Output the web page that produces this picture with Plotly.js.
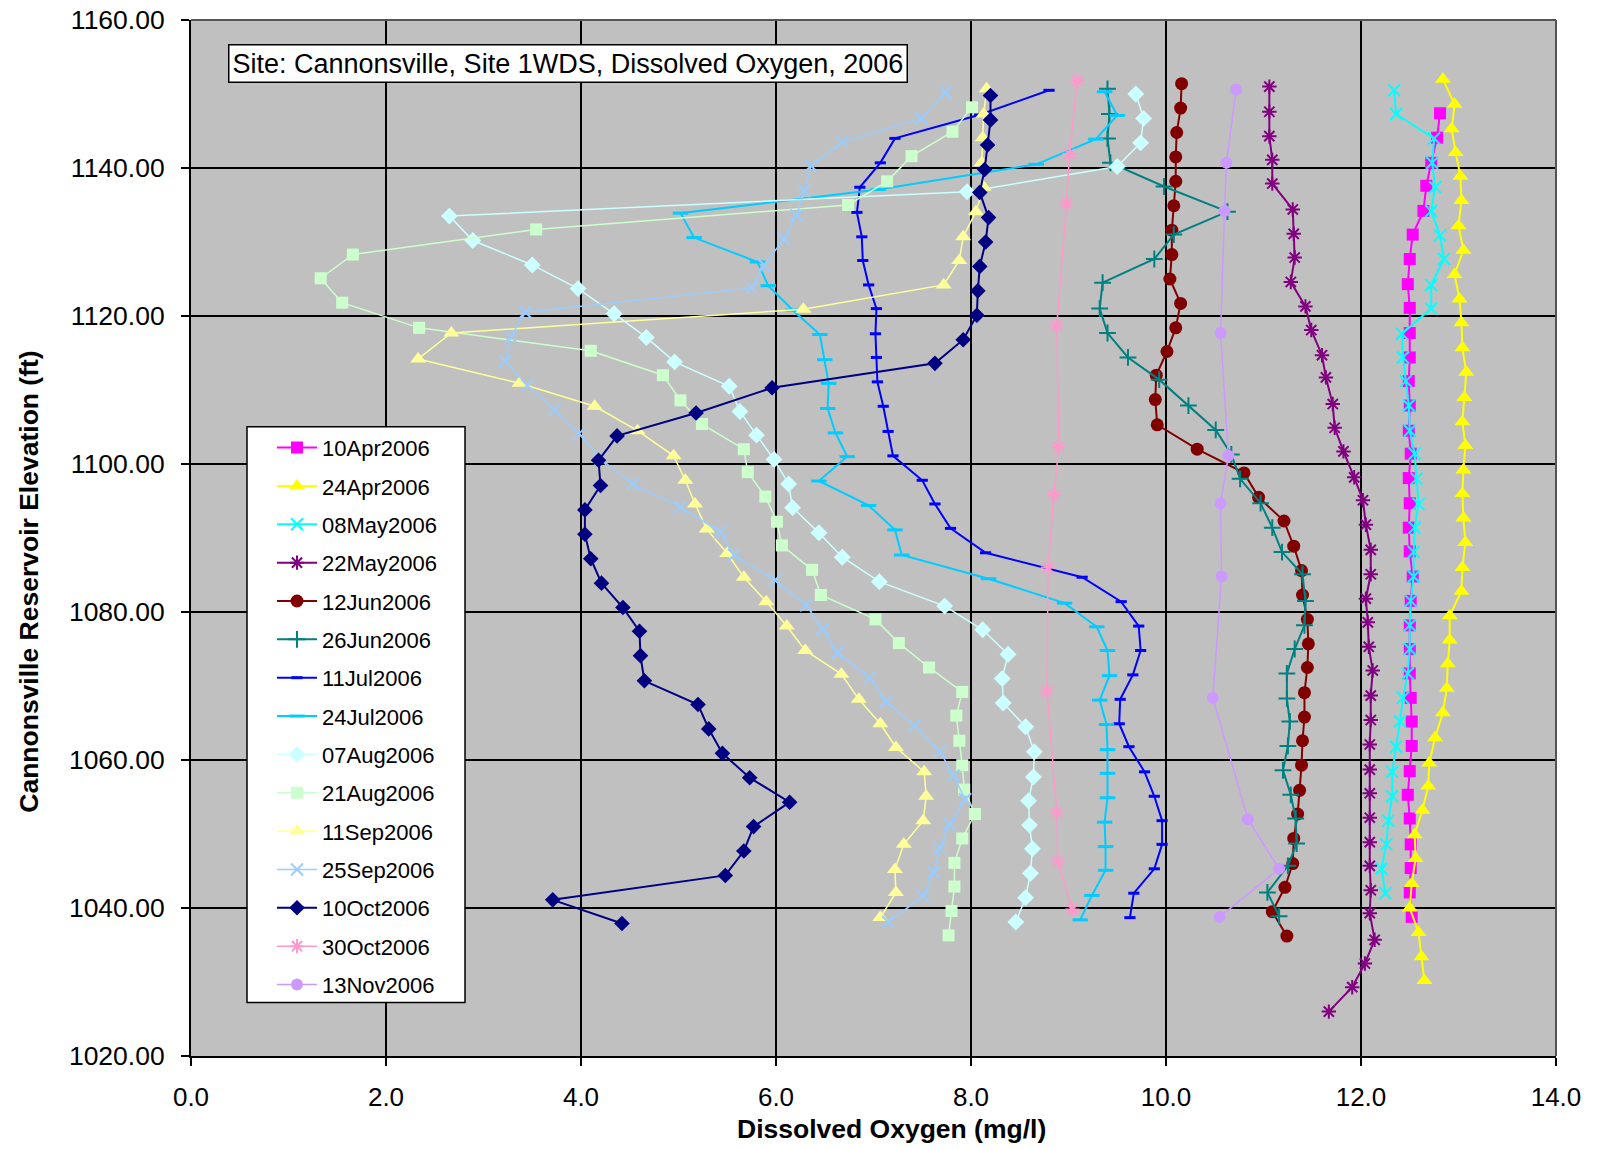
<!DOCTYPE html>
<html>
<head>
<meta charset="utf-8">
<script src="https://cdn.plot.ly/plotly-3.0.1.min.js"></script>
<style>html,body{margin:0;padding:0;background:#fff;}#chart{width:1600px;height:1149px;}</style>
</head>
<body>
<div id="chart"></div>
<script>
// ---- Data (DO in mg/l vs reservoir elevation in ft) ----
const seriesNames = ["10Apr2006","24Apr2006","08May2006","22May2006","12Jun2006","26Jun2006","11Jul2006","24Jul2006","07Aug2006","21Aug2006","11Sep2006","25Sep2006","10Oct2006","30Oct2006","13Nov2006"];

const elev10Apr = [1147.4,1144.1,1140.7,1137.6,1134.2,1131.0,1127.7,1124.3,1121.1,1117.7,1114.4,1111.2,1107.9,1104.5,1101.4,1098.1,1094.7,1091.4,1088.2,1084.8,1081.5,1078.2,1075.0,1071.7,1068.4,1065.2,1061.9,1058.5,1055.3,1052.1,1048.6,1045.4,1042.1,1038.8];
const do10Apr   = [12.81,12.78,12.72,12.67,12.64,12.53,12.50,12.48,12.50,12.50,12.50,12.49,12.50,12.49,12.51,12.49,12.50,12.49,12.50,12.53,12.51,12.50,12.50,12.50,12.51,12.52,12.52,12.50,12.48,12.50,12.51,12.51,12.50,12.52];

const elev24Apr = [1152.0,1148.6,1145.3,1142.1,1138.9,1135.6,1132.2,1128.9,1125.6,1122.3,1119.1,1115.7,1112.4,1109.0,1105.7,1102.5,1099.2,1096.0,1092.7,1089.4,1086.0,1082.8,1079.5,1076.2,1073.0,1069.7,1066.4,1063.0,1059.6,1056.5,1053.2,1049.9,1046.7,1043.3,1040.0,1036.7,1033.4,1030.2];
const do24Apr   = [12.84,12.96,12.93,12.97,13.02,13.03,13.00,13.05,12.96,13.01,13.03,13.04,13.08,13.06,13.04,13.07,13.05,13.04,13.05,13.07,13.04,13.03,12.91,12.91,12.89,12.88,12.84,12.76,12.70,12.69,12.63,12.55,12.56,12.52,12.50,12.59,12.62,12.65];

const elev08May = [1150.5,1147.3,1144.0,1140.7,1137.4,1134.2,1130.9,1127.7,1124.2,1121.0,1117.6,1114.4,1111.2,1107.9,1104.5,1101.4,1098.0,1094.6,1091.4,1088.1,1084.8,1081.5,1078.2,1075.0,1071.7,1068.4,1065.2,1061.8,1058.4,1055.1,1051.8,1048.6,1045.3,1042.0];
const do08May   = [12.34,12.36,12.75,12.73,12.76,12.72,12.81,12.85,12.72,12.72,12.42,12.43,12.46,12.49,12.50,12.55,12.57,12.59,12.55,12.54,12.54,12.51,12.50,12.50,12.48,12.43,12.40,12.36,12.32,12.32,12.28,12.26,12.21,12.25];

const elev22May = [1151.0,1147.6,1144.3,1141.1,1137.9,1134.4,1131.1,1127.9,1124.6,1121.3,1118.1,1114.7,1111.7,1108.1,1104.9,1101.7,1098.2,1095.1,1091.8,1088.4,1085.1,1081.8,1078.6,1075.3,1072.1,1068.7,1065.4,1062.1,1058.7,1055.5,1052.2,1048.9,1045.7,1042.4,1039.3,1035.7,1032.5,1029.3,1026.0];
const do22May   = [11.06,11.06,11.06,11.09,11.09,11.30,11.31,11.32,11.28,11.43,11.49,11.60,11.64,11.71,11.73,11.82,11.93,12.02,12.05,12.10,12.10,12.05,12.07,12.08,12.12,12.10,12.10,12.09,12.09,12.09,12.09,12.09,12.09,12.10,12.09,12.14,12.04,11.91,11.67];

const elev12Jun = [1151.4,1148.1,1144.8,1141.5,1138.2,1134.9,1131.6,1128.3,1125.0,1121.7,1118.4,1115.2,1112.0,1108.7,1105.3,1102.0,1098.8,1095.5,1092.3,1088.9,1085.6,1082.3,1079.0,1075.7,1072.5,1069.1,1065.8,1062.6,1059.3,1055.9,1052.7,1049.4,1046.0,1042.8,1039.5,1036.2];
const do12Jun   = [10.16,10.15,10.11,10.10,10.10,10.08,10.06,10.06,10.04,10.15,10.10,10.01,9.90,9.89,9.91,10.32,10.80,10.95,11.21,11.31,11.39,11.40,11.45,11.46,11.45,11.42,11.42,11.40,11.39,11.37,11.35,11.31,11.30,11.22,11.09,11.24];

const elev26Jun = [1150.7,1147.3,1144.0,1140.7,1137.5,1134.1,1131.0,1127.7,1124.5,1121.0,1117.7,1114.4,1111.4,1107.9,1104.6,1101.3,1098.0,1094.7,1091.4,1088.1,1085.1,1081.5,1078.2,1075.0,1071.7,1068.3,1065.2,1061.9,1058.6,1055.3,1052.1,1048.7,1045.7,1042.1,1038.9];
const do26Jun   = [9.40,9.42,9.40,9.43,9.98,10.63,10.08,9.88,9.35,9.32,9.40,9.61,9.93,10.23,10.51,10.67,10.76,10.97,11.09,11.19,11.40,11.43,11.42,11.32,11.24,11.24,11.27,11.25,11.20,11.28,11.33,11.34,11.25,11.04,11.16];

const elev11Jul = [1150.5,1147.2,1144.0,1140.7,1137.4,1134.0,1130.7,1127.5,1124.2,1121.0,1117.6,1114.4,1111.1,1107.8,1104.4,1101.1,1097.8,1094.6,1091.3,1088.0,1084.7,1081.4,1078.1,1074.8,1071.5,1068.2,1064.9,1061.8,1058.4,1055.1,1051.8,1048.6,1045.3,1042.0,1038.7];
const do11Jul   = [8.80,8.09,7.22,7.07,6.86,6.83,6.88,6.89,6.95,7.03,7.02,7.03,7.04,7.10,7.15,7.20,7.50,7.63,7.79,8.15,9.14,9.54,9.72,9.74,9.66,9.53,9.52,9.62,9.78,9.88,9.96,9.96,9.88,9.67,9.63];

const elev24Jul = [1150.3,1147.1,1143.9,1140.5,1137.1,1133.9,1130.6,1127.3,1124.1,1120.8,1117.5,1114.1,1110.9,1107.5,1104.2,1101.0,1097.7,1094.4,1091.1,1087.7,1084.5,1081.2,1078.0,1074.8,1071.4,1068.1,1064.8,1061.4,1058.2,1054.9,1051.6,1048.3,1045.1,1041.7,1038.4];
const do24Jul   = [9.37,9.50,9.28,8.67,7.05,5.02,5.16,5.81,5.92,6.17,6.45,6.50,6.54,6.53,6.61,6.73,6.44,6.95,7.22,7.29,8.18,8.96,9.29,9.40,9.42,9.32,9.39,9.40,9.40,9.40,9.37,9.38,9.38,9.24,9.12];

const elev07Aug = [1150.0,1146.7,1143.4,1140.2,1136.8,1133.5,1130.2,1126.9,1123.7,1120.3,1117.1,1113.8,1110.5,1107.1,1103.9,1100.6,1097.3,1094.1,1090.7,1087.4,1084.1,1080.8,1077.6,1074.3,1071.0,1067.7,1064.5,1061.1,1057.7,1054.5,1051.2,1048.0,1044.7,1041.4,1038.1];
const do07Aug   = [9.69,9.77,9.74,9.50,7.96,2.65,2.89,3.50,3.97,4.34,4.67,4.96,5.52,5.63,5.80,5.98,6.13,6.17,6.44,6.68,7.06,7.73,8.12,8.38,8.32,8.33,8.56,8.65,8.64,8.59,8.60,8.63,8.61,8.56,8.46];

const elev21Aug = [1148.2,1144.9,1141.6,1138.2,1135.0,1131.7,1128.3,1125.1,1121.8,1118.4,1115.3,1112.0,1108.6,1105.4,1102.0,1098.9,1095.6,1092.2,1089.0,1085.7,1082.3,1079.0,1075.8,1072.5,1069.2,1066.0,1062.6,1059.3,1056.0,1052.7,1049.4,1046.1,1042.9,1039.6,1036.3];
const do21Aug   = [8.01,7.81,7.39,7.14,6.74,3.54,1.66,1.33,1.55,2.34,4.10,4.84,5.02,5.24,5.67,5.71,5.89,6.01,6.06,6.37,6.46,7.02,7.26,7.57,7.91,7.85,7.88,7.91,7.93,8.04,7.91,7.83,7.83,7.80,7.77];

const elev11Sep = [1150.7,1147.3,1144.1,1140.7,1137.4,1134.1,1130.7,1127.5,1124.2,1120.9,1117.7,1114.2,1110.9,1107.8,1104.5,1101.1,1097.8,1094.6,1091.2,1087.9,1084.7,1081.4,1078.1,1074.8,1071.6,1068.2,1064.9,1061.7,1058.4,1055.1,1051.8,1048.6,1045.2,1042.1,1038.7];
const do11Sep   = [8.16,8.13,8.12,8.11,8.13,8.05,7.92,7.88,7.72,6.28,2.67,2.33,3.37,4.14,4.58,4.95,5.07,5.17,5.29,5.50,5.67,5.90,6.11,6.30,6.67,6.85,7.07,7.23,7.52,7.54,7.51,7.31,7.22,7.23,7.07];

const elev25Sep = [1150.2,1146.7,1143.5,1140.3,1136.9,1133.6,1130.4,1126.9,1123.8,1120.5,1117.2,1113.9,1110.6,1107.3,1104.1,1100.7,1097.3,1094.2,1090.8,1087.7,1084.3,1080.9,1077.7,1074.5,1071.1,1067.9,1064.6,1061.2,1057.9,1054.7,1051.3,1048.1,1044.8,1041.6,1038.1];
const do25Sep   = [7.74,7.49,6.68,6.36,6.29,6.21,6.08,5.88,5.75,3.43,3.28,3.22,3.45,3.73,3.98,4.20,4.53,5.02,5.43,5.57,5.99,6.31,6.48,6.63,6.96,7.13,7.42,7.68,7.82,7.94,7.78,7.68,7.62,7.51,7.15];

const elev10Oct = [1149.8,1146.5,1143.1,1139.8,1136.7,1133.3,1130.0,1126.7,1123.4,1120.1,1116.8,1113.6,1110.3,1106.9,1103.8,1100.5,1097.1,1093.8,1090.5,1087.2,1083.9,1080.6,1077.4,1074.1,1070.7,1067.5,1064.2,1060.9,1057.6,1054.3,1051.0,1047.7,1044.4,1041.1,1037.9];
const do10Oct   = [8.20,8.20,8.17,8.14,8.09,8.18,8.15,8.09,8.07,8.06,7.92,7.63,5.96,5.18,4.37,4.18,4.20,4.04,4.04,4.10,4.21,4.43,4.60,4.61,4.65,5.20,5.31,5.45,5.73,6.14,5.77,5.67,5.48,3.71,4.42];

const elev30Oct = [1151.8,1141.9,1135.2,1118.7,1102.3,1095.8,1086.0,1069.3,1052.9,1046.3,1039.8];
const do30Oct   = [9.09,9.01,8.98,8.88,8.90,8.85,8.79,8.78,8.88,8.89,9.04];

const elev13Nov = [1150.6,1140.7,1134.2,1117.7,1101.1,1094.7,1084.8,1068.4,1052.0,1045.3,1038.8];
const do13Nov   = [10.72,10.62,10.60,10.56,10.64,10.56,10.57,10.48,10.84,11.16,10.55];

const xTickVals = [0,2,4,6,8,10,12,14];
const yTickVals = [1020,1040,1060,1080,1100,1120,1140,1160];

// ---- Styles ----
const seriesX = [do10Apr,do24Apr,do08May,do22May,do12Jun,do26Jun,do11Jul,do24Jul,do07Aug,do21Aug,do11Sep,do25Sep,do10Oct,do30Oct,do13Nov];
const seriesY = [elev10Apr,elev24Apr,elev08May,elev22May,elev12Jun,elev26Jun,elev11Jul,elev24Jul,elev07Aug,elev21Aug,elev11Sep,elev25Sep,elev10Oct,elev30Oct,elev13Nov];
const styles = [
  {c:'#FF00FF', s:'square', z:12, lw:2},
  {c:'#FFFF00', s:'triangle-up', z:14, lw:2},
  {c:'#00FFFF', s:'x-thin-open', z:12, lw:2, ml:2},
  {c:'#800080', s:'asterisk-open', z:12, lw:2, ml:2},
  {c:'#800000', s:'circle', z:13, lw:2},
  {c:'#008080', s:'cross-thin-open', z:12, lw:2, ml:2},
  {c:'#0000FF', s:'line-ew-open', z:8, lw:2, ml:3},
  {c:'#00CCFF', s:'line-ew-open', z:11, lw:2, ml:3},
  {c:'#CCFFFF', s:'diamond', z:13, lw:1.5},
  {c:'#CCFFCC', s:'square', z:12, lw:1.5},
  {c:'#FFFF99', s:'triangle-up', z:14, lw:1.5},
  {c:'#99CCFF', s:'x-thin-open', z:12, lw:1.5, ml:2},
  {c:'#000080', s:'diamond', z:12, lw:2},
  {c:'#FF99CC', s:'asterisk-open', z:12, lw:1.5, ml:2},
  {c:'#CC99FF', s:'circle', z:12, lw:1.5}
];

const traces = seriesNames.map((nm, i) => {
  const st = styles[i];
  const marker = {symbol: st.s, size: st.z, color: st.c};
  if (st.ml) { marker.line = {color: st.c, width: st.ml}; } else { marker.line = {width: 0}; }
  return {
    type: 'scatter', mode: 'lines+markers', name: nm,
    x: seriesX[i], y: seriesY[i],
    line: {color: st.c, width: st.lw},
    marker: marker,
    legendgroup: nm,
    hoverinfo: 'x+y+name'
  };
});

const plotL = 191, plotR = 1556, plotT = 20, plotB = 1056.5;
const W = plotR - plotL, H = plotB - plotT;
const px2x = p => (p - plotL) / W;
const py2y = p => (plotB - p) / H;

const layout = {
  width: 1600, height: 1149,
  margin: {l: plotL, r: 1600 - plotR, t: plotT, b: 1149 - plotB},
  paper_bgcolor: '#FFFFFF',
  plot_bgcolor: '#C0C0C0',
  font: {family: '"Liberation Sans", Arial, sans-serif', color: '#000000', size: 25},
  showlegend: true,
  xaxis: {
    range: [0, 14], tickvals: xTickVals, tickformat: '.1f',
    showgrid: true, gridcolor: '#000000', gridwidth: 2, zeroline: false,
    showline: true, linecolor: '#000000', linewidth: 2,
    ticks: 'outside', ticklen: 8, tickwidth: 2, tickcolor: '#000000',
    tickfont: {size: 26}, ticklabelstandoff: 9
  },
  yaxis: {
    range: [1020, 1160], tickvals: yTickVals, tickformat: '.2f',
    showgrid: true, gridcolor: '#000000', gridwidth: 2, zeroline: false,
    showline: true, linecolor: '#000000', linewidth: 2,
    ticks: 'outside', ticklen: 8, tickwidth: 2, tickcolor: '#000000',
    tickfont: {size: 26.5}, ticklabelstandoff: 11
  },
  legend: {
    x: px2x(272), y: py2y(427), xanchor: 'left', yanchor: 'top',
    bgcolor: 'rgba(0,0,0,0)', borderwidth: 0,
    font: {size: 22}, tracegroupgap: 6.75, itemwidth: 40, traceorder: 'grouped'
  },
  shapes: [
    {type: 'rect', xref: 'paper', yref: 'paper', x0: px2x(247), x1: px2x(465), y0: py2y(1003), y1: py2y(427),
     fillcolor: '#FFFFFF', line: {color: '#000000', width: 1.5}, layer: 'above'},
    {type: 'line', xref: 'paper', yref: 'paper', x0: 0, x1: 1, y0: 1, y1: 1, line: {color: '#555555', width: 2}, layer: 'above'},
    {type: 'line', xref: 'paper', yref: 'paper', x0: 1, x1: 1, y0: 0, y1: 1, line: {color: '#555555', width: 2}, layer: 'above'}
  ],
  annotations: [
    {text: 'Site: Cannonsville, Site 1WDS, Dissolved Oxygen, 2006', xref: 'paper', yref: 'paper',
     x: px2x(228), y: py2y(44), xanchor: 'left', yanchor: 'top', showarrow: false,
     font: {size: 27}, bgcolor: '#FFFFFF', bordercolor: '#000000', borderwidth: 1.5, borderpad: 3},
    {text: '<b>Dissolved Oxygen (mg/l)</b>', xref: 'paper', yref: 'paper',
     x: px2x(892), y: py2y(1130), xanchor: 'center', yanchor: 'middle', showarrow: false, font: {size: 26.5}},
    {text: '<b>Cannonsville Reservoir Elevation (ft)</b>', xref: 'paper', yref: 'paper',
     x: px2x(29), y: py2y(582), xanchor: 'center', yanchor: 'middle', showarrow: false, textangle: -90, font: {size: 26.5}}
  ]
};

Plotly.newPlot('chart', traces, layout, {staticPlot: true, displayModeBar: false});
</script>
</body>
</html>
